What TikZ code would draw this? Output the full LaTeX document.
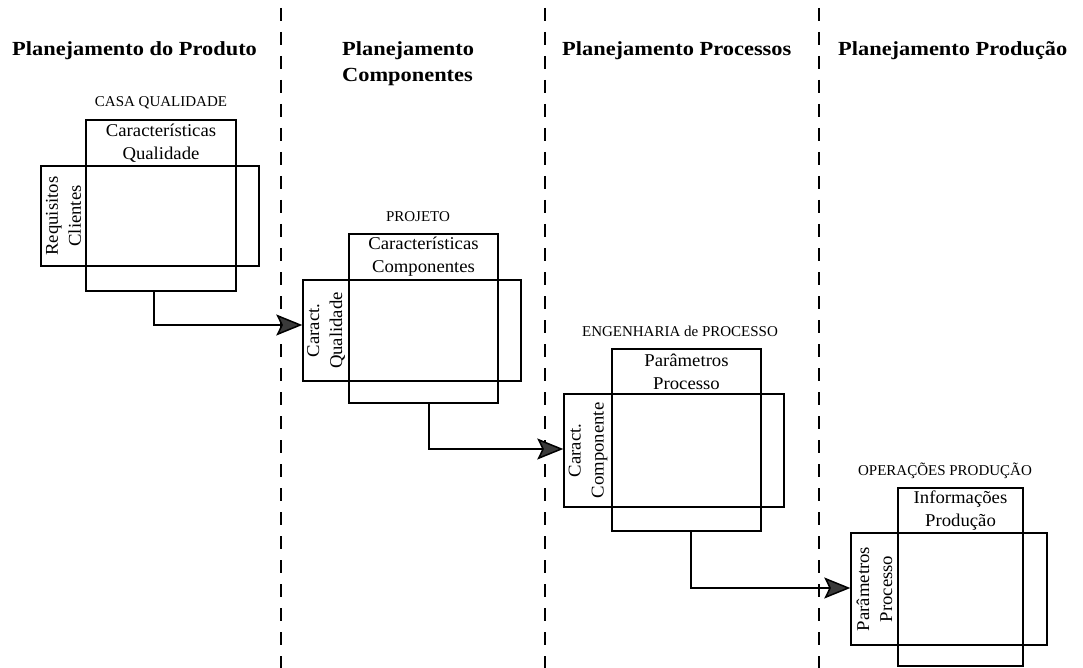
\documentclass[tikz,border=0pt]{standalone}
\usepackage{fontspec}
\setmainfont{Liberation Serif}
\newfontfamily\headfont[FakeStretch=1.12]{Liberation Serif}
\newfontfamily\cellfont[FakeStretch=1.04]{Liberation Serif}
\usetikzlibrary{arrows.meta}
\definecolor{tipgray}{HTML}{3A3A3A}

% a plain matrix cell given by its corners (x1,y1)-(x2,y2)
\newcommand\cellbox[6]{%
  \node[cell, minimum width={(#4-#2)*1pt}, minimum height={(#5-#3)*1pt}]
    (#1) at ({(#2+#4)/2},{(#3+#5)/2}) {#6};}
% a side cell whose text runs upwards (its own north faces left)
\newcommand\sidebox[6]{%
  \node[cell, rotate=90, minimum width={(#5-#3)*1pt}, minimum height={(#4-#2)*1pt}]
    (#1) at ({(#2+#4)/2},{(#3+#5)/2}) {#6};}

\begin{document}
\begin{tikzpicture}[x=1pt,y=-1pt,
  cell/.style={draw, line width=1.4pt, inner sep=0pt, align=center,
    font=\cellfont\fontsize{18}{23}\selectfont},
  divider/.style={line width=2pt, dash pattern=on 13pt off 11pt},
  conn/.style={line width=1.5pt,
    -{Stealth[length=26pt,width=21pt,inset=5pt,fill=tipgray]}},
  phase/.style={font=\headfont\bfseries\fontsize{20}{26}\selectfont,
    anchor=base west, align=left, inner sep=0pt},
  matlabel/.style={font=\fontsize{15}{18}\selectfont, anchor=base, inner sep=0pt}
]
\useasboundingbox[fill=white] (0,0) rectangle (1083,668);

% phase dividers
\coordinate (d1a) at (281,8);   \coordinate (d1b) at (281,668);
\coordinate (d2a) at (545,8);   \coordinate (d2b) at (545,668);
\coordinate (d3a) at (819,8);   \coordinate (d3b) at (819,668);
\draw[divider] (d1a) -- (d1b);
\draw[divider] (d2a) -- (d2b);
\draw[divider] (d3a) -- (d3b);

% phase headings (a two-line node sits on its last baseline)
\node[phase] (h1) at (12,56)  {Planejamento do Produto};
\node[phase] (h2) at (342,82) {Planejamento\\Componentes};
\node[phase] (h3) at (562,56) {Planejamento Processos};
\node[phase] (h4) at (838,56) {Planejamento Produção};

% matrix 1: house of quality
\node[matlabel] (n1) at (161,107) {CASA QUALIDADE};
\cellbox{t1}{86}{120}{236}{166}{Características\\Qualidade}
\cellbox{m1}{86}{166}{236}{266}{}
\sidebox{l1}{41}{166}{86}{266}{Requisitos\\Clientes}
\cellbox{r1}{236}{166}{259}{266}{}
\cellbox{b1}{86}{266}{236}{291}{}

% matrix 2: design
\node[matlabel] (n2) at (418,222) {PROJETO};
\cellbox{t2}{349}{234}{498}{280}{Características\\Componentes}
\cellbox{m2}{349}{280}{498}{381}{}
\sidebox{l2}{303}{280}{349}{381}{Caract.\\Qualidade}
\cellbox{r2}{498}{280}{521}{381}{}
\cellbox{b2}{349}{381}{498}{403}{}

% matrix 3: process engineering
\node[matlabel] (n3) at (680,336) {ENGENHARIA de PROCESSO};
\cellbox{t3}{612}{349}{761}{394}{Parâmetros\\Processo}
\cellbox{m3}{612}{394}{761}{507}{}
\sidebox{l3}{564}{394}{612}{507}{Caract.\\Componente}
\cellbox{r3}{761}{394}{784}{507}{}
\cellbox{b3}{612}{507}{761}{531}{}

% matrix 4: production operations
\node[matlabel] (n4) at (945,475) {OPERAÇÕES PRODUÇÃO};
\cellbox{t4}{898}{488}{1023}{533}{Informações\\Produção}
\cellbox{m4}{898}{533}{1023}{645}{}
\sidebox{l4}{851}{533}{898}{645}{Parâmetros\\Processo}
\cellbox{r4}{1023}{533}{1047}{645}{}
\cellbox{b4}{898}{645}{1023}{666}{}

% each matrix feeds the next one
\draw[conn] ([xshift=-7pt]b1.south) |- ([yshift=5.5pt]l2.north);
\draw[conn] ([xshift=5.5pt]b2.south) |- ([yshift=1.5pt]l3.north);
\draw[conn] ([xshift=4.5pt]b3.south) |- ([yshift=1pt]l4.north);
\end{tikzpicture}
\end{document}
